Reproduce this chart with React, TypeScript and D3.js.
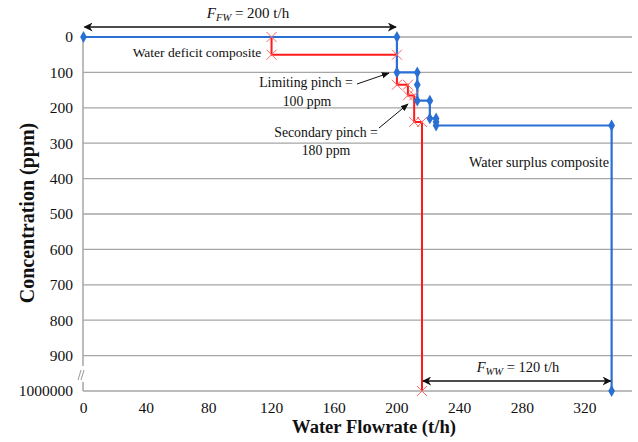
import React from "react";
import * as d3 from "d3";

// Water deficit composite (red, x markers)
const deficitFlow = [120, 120, 200, 200, 207, 207, 211, 211, 216, 216];
const deficitConc = [0, 50, 50, 135, 135, 165, 165, 240, 240, 1000];
// Water surplus composite (blue, diamonds)
const surplusFlow = [0, 200, 200, 213, 213, 213, 221, 221, 225, 225, 225, 337, 337];
const surplusConc = [0, 0, 100, 100, 135, 180, 180, 230, 230, 240, 250, 250, 1000];

const xTicks = [0, 40, 80, 120, 160, 200, 240, 280, 320];
const yTicks = [0, 100, 200, 300, 400, 500, 600, 700, 800, 900, 1000];
const yTickLabels = ["0", "100", "200", "300", "400", "500", "600", "700", "800", "900", "1000000"];
const gridVals = [0, 100, 200, 300, 400, 500, 600, 700, 800, 900];

const W = 638, H = 442;
const FONT = "'Liberation Serif', 'Times New Roman', serif";

export default function App() {
  const x = d3.scaleLinear().domain([0, 350]).range([83.5, 632]);
  const y = d3.scaleLinear().domain([0, 1000]).range([37, 391]);
  const line = d3.line<[number, number]>().x(d => x(d[0])).y(d => y(d[1]));
  const red = deficitFlow.map((f, i) => [f, deficitConc[i]] as [number, number]);
  const blue = surplusFlow.map((f, i) => [f, surplusConc[i]] as [number, number]);
  const blueC = "#2a70d4";
  const redC = "#ff1a1a";
  const grid = "#a6a6a6";
  const diamond = d3.symbol().type(d3.symbolDiamond).size(40)();

  const x0 = 83, x1 = 632;
  return (
    <svg width={W} height={H} style={{ position: "absolute", left: 0, top: 0, background: "#fff" }} fontFamily={FONT}>
      <defs>
        <marker id="ah" viewBox="0 0 10 10" refX="9" refY="5" markerWidth="9" markerHeight="9" orient="auto-start-reverse" markerUnits="userSpaceOnUse">
          <path d="M0,0 L10,5 L0,10 L3,5 z" fill="#111" />
        </marker>
        <marker id="ah2" viewBox="0 0 10 10" refX="9" refY="5" markerWidth="8" markerHeight="8" orient="auto" markerUnits="userSpaceOnUse">
          <path d="M0,1 L10,5 L0,9 z" fill="#111" />
        </marker>
      </defs>
      {/* grid */}
      {gridVals.map(v => (
        <line key={v} x1={x0} x2={x1} y1={y(v)} y2={y(v)} stroke={grid} strokeWidth={1.3} />
      ))}
      {/* axes */}
      <line x1={x0} x2={x1} y1={y(1000)} y2={y(1000)} stroke={grid} strokeWidth={1.5} />
      <line x1={x0} x2={x0} y1={y(0)} y2={366} stroke={grid} strokeWidth={1.5} />
      <line x1={x0} x2={x0} y1={382} y2={y(1000)} stroke={grid} strokeWidth={1.5} />
      <line x1={78} x2={81} y1={380} y2={370} stroke="#999" strokeWidth={1} />
      <line x1={81} x2={84} y1={380} y2={370} stroke="#999" strokeWidth={1} />
      {/* tick labels */}
      {yTicks.map((v, i) => (
        <text key={v} x={73} y={y(v)} dy="0.35em" textAnchor="end" fontSize={15.5} fill="#111">{yTickLabels[i]}</text>
      ))}
      {xTicks.map(v => (
        <text key={v} x={x(v)} y={413} textAnchor="middle" fontSize={15.5} fill="#111">{v}</text>
      ))}
      {/* axis titles */}
      <text x={374} y={433} textAnchor="middle" fontSize={18.6} fontWeight="bold" fill="#111">Water Flowrate (t/h)</text>
      <text transform={`translate(34,213) rotate(-90)`} textAnchor="middle" fontSize={20} fontWeight="bold" fill="#111">Concentration (ppm)</text>
      {/* series */}
      <path d={line(red) || ""} fill="none" stroke={redC} strokeWidth={2} />
      <path d={line(blue) || ""} fill="none" stroke={blueC} strokeWidth={2.2} />
      {red.map((p, i) => (
        <g key={i} transform={`translate(${x(p[0])},${y(p[1])})`} stroke="#ff6666" strokeWidth={1}>
          <line x1={-5} x2={5} y1={-5} y2={5} />
          <line x1={-5} x2={5} y1={5} y2={-5} />
        </g>
      ))}
      {blue.map((p, i) => (
        <path key={i} d={diamond || ""} transform={`translate(${x(p[0])},${y(p[1])})`} fill={blueC} />
      ))}
      {/* F_FW arrow */}
      <line x1={x(0) + 1} x2={x(200) - 1} y1={27} y2={27} stroke="#111" strokeWidth={1.6} markerStart="url(#ah)" markerEnd="url(#ah)" />
      <text x={248} y={18} textAnchor="middle" fontSize={15} fill="#111">
        <tspan fontStyle="italic">F</tspan><tspan fontStyle="italic" fontSize={10.5} dy={3}>FW</tspan><tspan dy={-3}> = 200 t/h</tspan>
      </text>
      {/* F_WW arrow */}
      <line x1={x(216) + 1} x2={x(337) - 1} y1={381} y2={381} stroke="#111" strokeWidth={1.6} markerStart="url(#ah)" markerEnd="url(#ah)" />
      <text x={518} y={372} textAnchor="middle" fontSize={14.5} fill="#111">
        <tspan fontStyle="italic">F</tspan><tspan fontStyle="italic" fontSize={10.5} dy={3}>WW</tspan><tspan dy={-3}> = 120 t/h</tspan>
      </text>
      {/* annotations */}
      <text x={197} y={57} textAnchor="middle" fontSize={13.5} fill="#111">Water deficit composite</text>
      <text x={306} y={87} textAnchor="middle" fontSize={13.8} fill="#111">Limiting pinch =</text>
      <text x={307} y={106} textAnchor="middle" fontSize={13.8} fill="#111">100 ppm</text>
      <line x1={357} x2={389} y1={84} y2={73} stroke="#111" strokeWidth={1} markerEnd="url(#ah2)" />
      <text x={326} y={137} textAnchor="middle" fontSize={13.8} fill="#111">Secondary pinch =</text>
      <text x={326} y={155} textAnchor="middle" fontSize={13.8} fill="#111">180 ppm</text>
      <line x1={379} x2={408} y1={128} y2={104} stroke="#111" strokeWidth={1} markerEnd="url(#ah2)" />
      <text x={539} y={167} textAnchor="middle" fontSize={14.2} fill="#111">Water surplus composite</text>
    </svg>
  );
}
